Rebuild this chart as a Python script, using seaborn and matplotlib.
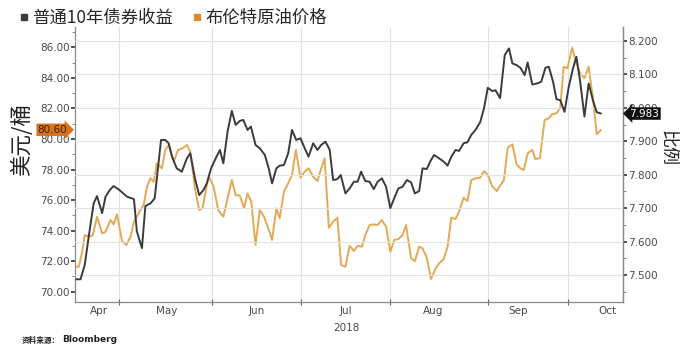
import numpy as np
import pandas as pd
import seaborn as sns
import matplotlib
matplotlib.use("Agg")
import matplotlib.pyplot as plt
import matplotlib.transforms as mtrans
from matplotlib.lines import Line2D
from matplotlib.ticker import FormatStrFormatter, MultipleLocator

# ---------------- data (x = trading-day position, 0 = 1 May 2018) ----------------
brent_day = [-10.3, -9.5, -8.7, -8.1, -7.1, -6.2, -5.2, -4.0, -3.2, -2.0, -1.3, -0.5,
             0.7, 1.7, 2.7, 3.5, 4.6, 5.8, 6.6, 7.4, 8.2, 8.9, 10.1, 10.9, 11.7, 12.9,
             13.9, 15.0, 16.0, 16.8, 17.9, 18.9, 19.7, 20.7, 21.2, 22.3, 23.4, 24.6,
             25.6, 26.6, 27.5, 28.5, 29.5, 30.3, 31.2, 32.2, 33.2, 34.2, 35.2, 36.1,
             37.1, 37.9, 38.9, 39.9, 40.8, 41.7, 42.8, 43.8, 44.7, 45.8, 46.8, 47.7,
             48.5, 49.5, 50.5, 51.5, 52.4, 53.4, 54.4, 55.4, 56.3, 57.3, 58.1, 59.1,
             60.1, 61.0, 62.0, 63.0, 64.0, 64.9, 65.9, 66.9, 67.7, 68.9, 69.8, 70.8,
             71.6, 72.6, 73.6, 74.7, 75.5, 76.6, 77.5, 78.4, 79.4, 80.2, 81.3, 82.2,
             83.1, 84.1, 85.2, 86.1, 87.0, 88.1, 89.1, 90.0, 90.8, 91.7, 92.8, 93.8,
             94.7, 95.5, 96.4, 97.5, 98.2, 99.3, 100.4, 101.4, 102.2, 103.2, 104.1,
             104.9, 105.8, 106.9, 107.9, 108.8, 109.8, 110.8, 111.8, 112.7, 113.7]
brent_price = [71.64, 71.64, 72.62, 73.71, 73.60, 73.71, 74.91, 73.82, 73.93, 74.70, 74.41, 75.07,
               73.32, 73.06, 73.60, 74.58, 75.13, 75.68, 76.88, 77.43, 77.20, 78.41, 78.08, 79.28, 79.61, 78.51,
               79.28, 79.39, 79.61, 79.17, 76.77, 75.35, 75.46, 76.99, 77.53, 76.88, 75.35, 74.91,
               76.12, 77.32, 76.33, 76.29, 75.46, 76.44, 75.90, 73.06, 75.35, 74.91, 74.15, 73.39,
               75.46, 74.81, 76.55, 77.10, 77.64, 79.28, 77.47, 77.86, 78.08, 77.53, 77.25, 78.08,
               78.74, 74.19, 74.58, 74.85, 71.75, 71.64, 73.01, 72.67, 73.01, 72.95, 73.71, 74.37,
               74.41, 74.37, 74.70, 74.26, 72.62, 73.39, 73.45, 73.71, 74.37, 72.19, 72.01, 72.95,
               72.84, 72.23, 70.83, 71.53, 71.86, 72.14, 72.95, 74.85, 74.76, 75.24, 76.16, 75.94,
               77.31, 77.43, 77.47, 77.90, 77.64, 76.88, 76.59, 76.99, 77.32, 79.43, 79.65, 78.34,
               78.08, 77.97, 79.06, 79.28, 78.69, 78.74, 81.24, 81.36, 81.62, 81.68, 82.05,
               84.73, 84.63, 85.98, 84.96, 84.30, 83.97, 84.73, 82.67, 80.31, 80.60]

yield_day = [-10.1, -9.1, -8.1, -7.1, -6.0, -5.2, -4.0, -3.2, -2.2, -1.3, -0.1, 0.9, 1.9,
             3.5, 4.2, 5.4, 6.2, 7.4, 8.4, 9.9, 10.9, 11.7, 12.5, 13.6, 14.8, 16.0, 16.8,
             17.9, 18.9, 19.9, 20.7, 21.7, 22.8, 23.8, 24.6, 25.6, 26.6, 27.5, 28.5, 29.3,
             30.3, 31.1, 32.2, 33.2, 34.4, 35.3, 36.1, 37.1, 37.9, 38.9, 39.9, 40.8, 41.8,
             42.8, 43.8, 44.7, 45.8, 46.8, 47.7, 48.7, 49.7, 50.5, 51.5, 52.3, 53.4, 54.4,
             55.4, 56.3, 57.1, 58.1, 59.1, 60.1, 61.0, 62.0, 63.0, 64.0, 64.9, 65.9, 66.9,
             67.9, 68.9, 69.8, 70.8, 71.6, 72.6, 73.4, 74.3, 75.5, 76.6, 77.5, 78.4, 79.4,
             80.2, 81.3, 82.2, 83.1, 84.1, 85.2, 86.1, 87.0, 88.1, 88.8, 89.9, 91.0, 92.0,
             92.8, 93.8, 94.7, 95.7, 96.4, 97.5, 98.6, 99.6, 100.6, 101.4, 102.4, 103.2,
             104.1, 105.1, 106.1, 107.1, 107.9, 108.8, 109.8, 110.8, 111.8, 112.7, 113.7]
yield_ratio = [7.487, 7.487, 7.530, 7.620, 7.714, 7.736, 7.685, 7.734, 7.754, 7.766, 7.756, 7.745, 7.734,
               7.727, 7.630, 7.580, 7.706, 7.714, 7.729, 7.904, 7.904, 7.894, 7.854, 7.819, 7.809, 7.849, 7.864,
               7.789, 7.739, 7.754, 7.774, 7.819, 7.849, 7.874, 7.834, 7.929, 7.991, 7.949, 7.961, 7.964,
               7.934, 7.944, 7.889, 7.879, 7.859, 7.819, 7.774, 7.819, 7.827, 7.829, 7.864, 7.934, 7.904,
               7.909, 7.879, 7.854, 7.894, 7.874, 7.889, 7.899, 7.874, 7.784, 7.787, 7.799, 7.744, 7.759,
               7.779, 7.779, 7.809, 7.781, 7.779, 7.757, 7.779, 7.789, 7.764, 7.700, 7.729, 7.759, 7.764,
               7.784, 7.777, 7.744, 7.751, 7.819, 7.817, 7.839, 7.859, 7.849, 7.839, 7.827, 7.854, 7.874,
               7.871, 7.894, 7.897, 7.919, 7.934, 7.957, 7.999, 8.060, 8.050, 8.053, 8.029, 8.158, 8.178,
               8.133, 8.128, 8.120, 8.098, 8.136, 8.070, 8.073, 8.078, 8.120, 8.123, 8.078, 8.026,
               8.023, 7.988, 8.063, 8.118, 8.153, 8.078, 7.974, 8.073, 8.023, 7.987, 7.983]

month_bounds = [0, 22, 43, 64, 87, 106]
month_labels = ["Apr", "May", "Jun", "Jul", "Aug", "Sep", "Oct"]
month_label_pos = [-4.8, 11.3, 32.4, 53.6, 74.0, 94.2, 115.2]
year_label = "2018"
legend_labels = ["普通10年债券收益", "布伦特原油价格"]
left_label = "美元/桶"
right_label = "比例"
source_text = "资料来源："
source_name = "Bloomberg"

BLACK = "#3b3b3b"
ORANGE = "#e4a955"
CJK = ["Noto Sans CJK SC", "DejaVu Sans"]

brent = pd.DataFrame({"day": brent_day, "price": brent_price})
yld = pd.DataFrame({"day": yield_day, "ratio": yield_ratio})

sns.set_theme(style="white")
plt.rcParams["font.family"] = ["DejaVu Sans", "Noto Sans CJK SC"]

fig = plt.figure(figsize=(6.92, 3.47), dpi=100)
ax = fig.add_axes([75 / 692, 1 - 302 / 347, 548 / 692, 275 / 347])
ax2 = ax.twinx()

sns.lineplot(data=brent, x="day", y="price", ax=ax, color=ORANGE, lw=1.4)
sns.lineplot(data=yld, x="day", y="ratio", ax=ax2, color=BLACK, lw=1.4)

ax.set_xlim(-10.4, 118.9)
ax.set_ylim(69.33, 87.33)
ax2.set_ylim(7.419, 8.242)

# left axis
ax.set_yticks(np.arange(70, 87, 2))
ax.yaxis.set_major_formatter(FormatStrFormatter("%.2f"))
ax.yaxis.set_minor_locator(MultipleLocator(1))
ax.tick_params(axis="y", which="major", left=True, direction="out", length=3, width=1.2,
               color="#333333", labelsize=7.5, labelcolor="#4a4a4a", pad=1)
ax.tick_params(axis="y", which="minor", left=True, direction="out", length=2, width=0.6, color="#777777")

# right axis
ax2.set_yticks(np.arange(7.5, 8.21, 0.1))
ax2.yaxis.set_major_formatter(FormatStrFormatter("%.3f"))
ax2.yaxis.set_minor_locator(MultipleLocator(0.05))
ax2.tick_params(axis="y", which="major", right=True, direction="out", length=3, width=1.2,
                color="#333333", labelsize=7.5, labelcolor="#4a4a4a", pad=1)
ax2.tick_params(axis="y", which="minor", right=True, direction="out", length=2, width=0.6, color="#777777")

# x axis
ax.set_xticks(month_bounds)
ax.set_xticklabels([])
ax.set_xticks(month_label_pos, minor=True)
ax.set_xticklabels(month_labels, minor=True)
ax.tick_params(axis="x", which="major", bottom=True, direction="inout", length=4, width=0.8, color="#666666")
ax.tick_params(axis="x", which="minor", bottom=True, length=0, labelsize=7.5, labelcolor="#4a4a4a", pad=3)
ax.set_xlabel("")
ax.set_ylabel("")
ax2.set_ylabel("")

# grids
ax.grid(False)
ax.xaxis.grid(True, which="major", color="#e2e2e2", lw=0.8)
ax2.yaxis.grid(True, which="major", color="#e2e2e2", lw=0.8)
ax2.set_axisbelow(True)

for a in (ax, ax2):
    a.spines["top"].set_visible(False)
    for s in ("left", "right", "bottom"):
        a.spines[s].set_color("#8a8a8a")
        a.spines[s].set_linewidth(0.9)
ax2.spines["left"].set_visible(False)
ax2.spines["bottom"].set_visible(False)

# last value tags
tl = mtrans.blended_transform_factory(ax.transAxes, ax.transData)
ax.text(-0.014, brent_price[-1], f"{brent_price[-1]:.2f}", transform=tl, ha="right", va="center",
        fontsize=7.5, color="#3a2000", zorder=10, clip_on=False,
        bbox=dict(boxstyle="rarrow,pad=0.12", fc="#d8731a", ec="none"))
tr = mtrans.blended_transform_factory(ax2.transAxes, ax2.transData)
ax2.text(1.012, yield_ratio[-1], f"{yield_ratio[-1]:.3f}", transform=tr, ha="left", va="center",
         fontsize=7.5, color="white", zorder=10, clip_on=False,
         bbox=dict(boxstyle="larrow,pad=0.12", fc="#111111", ec="none"))

# year label
tx = mtrans.blended_transform_factory(ax.transData, ax.transAxes)
ax.text(month_label_pos[3], -0.075, year_label, transform=tx, ha="center", va="top",
        fontsize=7.5, color="#4a4a4a")

# axis titles
fig.text(22 / 692, 1 - 140 / 347, left_label, rotation=90, ha="center", va="center",
         fontsize=15.5, color="#222222", family=CJK)
fig.text(668 / 692, 1 - 148 / 347, right_label, rotation=270, ha="center", va="center",
         fontsize=13, color="#222222", family=CJK)

# legend
handles = [Line2D([], [], marker="s", ls="none", color=BLACK, markersize=4),
           Line2D([], [], marker="s", ls="none", color="#e08a30", markersize=4)]
fig.legend(handles, legend_labels, loc="upper left", bbox_to_anchor=(0.01, 1.005), ncol=2,
           frameon=False, prop={"family": CJK, "size": 12.5}, handletextpad=0.05,
           columnspacing=1.0, handlelength=0.8, borderaxespad=0.2)

# source
fig.text(22 / 692, 1 - 340 / 347, source_text, ha="left", va="center", fontsize=5.5,
         color="#222222", family=CJK, weight="bold")
fig.text(62 / 692, 1 - 340 / 347, source_name, ha="left", va="center", fontsize=6.5,
         color="#222222", weight="bold")

fig.savefig("out.png", dpi=100)
